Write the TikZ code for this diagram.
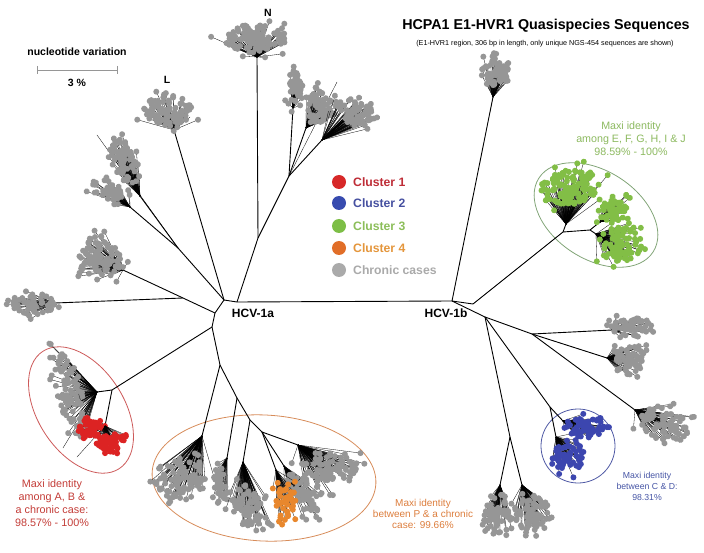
\documentclass[tikz,border=0pt]{standalone}
\usepackage{fontspec}
\setmainfont{Liberation Sans}
\usetikzlibrary{calc}
\definecolor{cgrey}{RGB}{150,150,150}
\definecolor{cred}{RGB}{220,35,35}
\definecolor{cblue}{RGB}{60,70,175}
\definecolor{cgreen}{RGB}{130,190,70}
\definecolor{corange}{RGB}{232,135,45}
\definecolor{tred}{RGB}{195,60,55}
\definecolor{tblue}{RGB}{70,85,165}
\definecolor{tgreen}{RGB}{140,185,95}
\definecolor{torange}{RGB}{220,125,60}
\definecolor{ered}{RGB}{205,90,90}
\definecolor{eorange}{RGB}{215,140,90}
\definecolor{eblue}{RGB}{80,90,165}
\definecolor{egreen}{RGB}{130,165,120}
\definecolor{lg1}{RGB}{215,40,40}
\definecolor{lg2}{RGB}{55,75,175}
\definecolor{lg3}{RGB}{125,190,70}
\definecolor{lg4}{RGB}{225,110,40}
\definecolor{lg5}{RGB}{170,170,170}
\definecolor{lt1}{RGB}{190,45,55}
\definecolor{lt2}{RGB}{70,80,160}
\definecolor{lt3}{RGB}{140,190,90}
\definecolor{lt4}{RGB}{228,150,60}
\definecolor{lt5}{RGB}{170,170,170}
% #1 base, #2 centre x,y, #3 angle, #4 rx, #5 ry, #6 count, #7 colour, #8 seed
\newcommand\clump[8]{%
  \begin{scope}[shift={(#2)},rotate=#3]
    \pgfmathsetseed{#8}%
    \foreach \k in {1,...,#6}{%
      \pgfmathsetmacro\myr{rnd^0.65}%
      \pgfmathsetmacro\mya{360*rnd}%
      \draw[leafline] (#1) -- ({\myr*cos(\mya)*#4},{\myr*sin(\mya)*#5});
    }%
    \pgfmathsetseed{#8+500}%
    \foreach \k in {1,...,7}{%
      \pgfmathsetmacro\myr{1+0.45*rnd}%
      \pgfmathsetmacro\mya{360*rnd}%
      \draw[leafline] (#1) -- ({\myr*cos(\mya)*#4},{\myr*sin(\mya)*#5});
    }%
    \pgfmathsetseed{#8}%
    \foreach \k in {1,...,#6}{%
      \pgfmathsetmacro\myr{rnd^0.65}%
      \pgfmathsetmacro\mya{360*rnd}%
      \fill[#7] ({\myr*cos(\mya)*#4},{\myr*sin(\mya)*#5}) circle[radius=3pt];
    }%
    \pgfmathsetseed{#8+500}%
    \foreach \k in {1,...,7}{%
      \pgfmathsetmacro\myr{1+0.45*rnd}%
      \pgfmathsetmacro\mya{360*rnd}%
      \fill[#7] ({\myr*cos(\mya)*#4},{\myr*sin(\mya)*#5}) circle[radius=3pt];
    }%
  \end{scope}}
\begin{document}
\begin{tikzpicture}[x=1pt,y=-1pt,
  branch/.style={line width=0.9pt,black},
  leafline/.style={line width=0.3pt,black},
  lab/.style={inner sep=0pt,font=\bfseries\fontsize{12}{14}\selectfont},
  legtext/.style={anchor=west,inner sep=0pt,font=\bfseries\fontsize{12.2}{14}\selectfont},
  note/.style={align=center,inner sep=0pt}]
\useasboundingbox (0,0) rectangle (704,553);
% ---------- coordinates ----------
\coordinate (A0) at (237,302); \coordinate (A0b) at (224,300);
\coordinate (A1) at (215,313); \coordinate (A2) at (212,327);
\coordinate (NB) at (258,238); \coordinate (Nb) at (257,57);
\coordinate (NQ) at (289,176); \coordinate (N1b) at (293,108);
\coordinate (N2b) at (306,128); \coordinate (N3b) at (322,140);
\coordinate (Ntip) at (337,82);
\coordinate (Lb) at (174,130); \coordinate (Ltip) at (190,117);
\coordinate (UL0) at (178,248); \coordinate (ULtip) at (97,135);
\coordinate (ULab) at (140,196); \coordinate (ULbb) at (130,207);
\coordinate (ML0) at (123,270); \coordinate (J) at (183,298);
\coordinate (HLb) at (55,303);
\coordinate (R0) at (112,390); \coordinate (R1) at (97,392);
\coordinate (R2) at (105,426); \coordinate (Rtip) at (63,448);
\coordinate (Rtip2) at (77,457);
\coordinate (O0) at (220,365); \coordinate (OA) at (202,436);
\coordinate (OB) at (237,398); \coordinate (O2b) at (227,458);
\coordinate (OC) at (250,420); \coordinate (O3b) at (243,462);
\coordinate (OD) at (262,432); \coordinate (OOb) at (276,470);
\coordinate (O4b) at (284,466); \coordinate (O5b) at (298,445);
\coordinate (B0) at (452,301); \coordinate (B1) at (473,304);
\coordinate (TRb) at (493,97);
\coordinate (G0) at (563,232); \coordinate (G1b) at (566,224);
\coordinate (G2) at (590,230); \coordinate (G2b) at (600,222);
\coordinate (G3b) at (596,234);
\coordinate (B2) at (485,317); \coordinate (RJ) at (532,334);
\coordinate (RAb) at (612,330); \coordinate (RBb) at (607,358);
\coordinate (RCb) at (635,410);
\coordinate (BL) at (550,407); \coordinate (BLa) at (563,421);
\coordinate (BLb) at (556,437);
\coordinate (BD) at (510,437); \coordinate (BD1) at (500,485);
\coordinate (BD2) at (522,485);
% ---------- ellipses ----------
\draw[ered,line width=0.8pt] (81,410) ellipse[x radius=70pt,y radius=43pt,rotate=-57];
\draw[eorange,line width=0.8pt] (264,478) ellipse[x radius=112pt,y radius=63pt,rotate=-3];
\draw[egreen,line width=0.8pt] (596,215) ellipse[x radius=68pt,y radius=44pt,rotate=-33];
\draw[eblue,line width=0.8pt] (578,446) circle[radius=37pt];
% ---------- branches ----------
\draw[branch] (A0) -- (B0);
\draw[branch] (A0) -- (A0b) -- (A1) -- (A2);
\draw[branch] (A0) -- (NB) -- (Nb);
\draw[branch] (NB) -- (NQ);
\draw[branch] (NQ) -- (N1b); \draw[branch] (NQ) -- (N2b);
\draw[branch] (NQ) -- (N3b); \draw[leafline] (NQ) -- (Ntip);
\draw[branch] (A0b) -- (Lb); \draw[leafline] (Lb) -- (Ltip);
\draw[branch] (A0b) -- (UL0); \draw[leafline] (UL0) -- (ULtip);
\draw[branch] (UL0) -- (ULab); \draw[branch] (UL0) -- (ULbb);
\draw[branch] (A1) -- (J) -- (ML0); \draw[branch] (J) -- (HLb);
\draw[branch] (A2) -- (R0) -- (R1); \draw[branch] (R0) -- (R2);
\draw[leafline] (R1) -- (Rtip); \draw[leafline] (R2) -- (Rtip2);
\draw[branch] (A2) -- (O0) -- (OA); \draw[branch] (O0) -- (OB) -- (O2b);
\draw[branch] (OB) -- (OC) -- (O3b); \draw[branch] (OC) -- (OD);
\draw[branch] (OD) -- (OOb); \draw[branch] (OD) -- (O4b); \draw[branch] (OD) -- (O5b);
\draw[branch] (B0) -- (TRb);
\draw[branch] (B0) -- (B1) -- (G0) -- (G1b); \draw[branch] (G0) -- (G2) -- (G2b);
\draw[branch] (G2) -- (G3b);
\draw[branch] (B0) -- (B2) -- (RJ) -- (RAb); \draw[branch] (RJ) -- (RBb);
\draw[branch] (RJ) -- (RCb);
\draw[branch] (B2) -- (BL) -- (BLa); \draw[branch] (BL) -- (BLb);
\draw[branch] (B2) -- (BD) -- (BD1); \draw[branch] (BD) -- (BD2);
% ---------- clumps ----------
\clump{Nb}{255,38}{0}{31}{15}{110}{cgrey}{11}
\clump{N1b}{294,88}{0}{7}{18}{40}{cgrey}{12}
\clump{N2b}{318,105}{0}{13}{18}{60}{cgrey}{13}
\clump{N3b}{355,112}{-20}{20}{13}{70}{cgrey}{14}
\clump{Lb}{168,110}{0}{24}{16}{85}{cgrey}{15}
\clump{ULab}{124,162}{-66}{26}{11}{75}{cgrey}{16}
\clump{ULbb}{106,190}{-20}{18}{9}{45}{cgrey}{17}
\clump{ML0}{100,258}{0}{22}{22}{95}{cgrey}{18}
\clump{HLb}{32,304}{0}{22}{11}{55}{cgrey}{19}
\clump{R1}{70,395}{-70}{48}{13}{90}{cgrey}{20}
\clump{R2}{90,430}{0}{14}{9}{40}{cred}{21}
\clump{R2}{112,442}{0}{14}{10}{45}{cred}{22}
\clump{OA}{180,480}{0}{26}{22}{100}{cgrey}{23}
\clump{O2b}{220,485}{0}{6}{18}{28}{cgrey}{24}
\clump{O3b}{250,508}{-60}{26}{16}{75}{cgrey}{25}
\clump{O4b}{302,495}{-55}{24}{12}{55}{cgrey}{26}
\clump{OOb}{285,500}{0}{10}{20}{35}{corange}{27}
\clump{O5b}{328,470}{0}{28}{20}{95}{cgrey}{28}
\clump{TRb}{496,73}{0}{14}{15}{55}{cgrey}{29}
\clump{G1b}{569,188}{10}{30}{18}{120}{cgreen}{30}
\clump{G2b}{614,210}{20}{16}{11}{50}{cgreen}{31}
\clump{G3b}{620,244}{0}{22}{18}{85}{cgreen}{32}
\clump{RAb}{632,328}{0}{20}{10}{55}{cgrey}{33}
\clump{RBb}{630,362}{0}{17}{16}{60}{cgrey}{34}
\clump{RCb}{665,425}{-20}{26}{16}{80}{cgrey}{35}
\clump{BLa}{585,428}{0}{20}{10}{55}{cblue}{36}
\clump{BLb}{570,455}{0}{15}{16}{60}{cblue}{37}
\clump{BD1}{498,515}{0}{13}{23}{60}{cgrey}{38}
\clump{BD2}{534,515}{0}{18}{20}{70}{cgrey}{39}
% ---------- labels ----------
\node[lab] (l1a) at (253,313) {HCV-1a};
\node[lab] (l1b) at (446,313) {HCV-1b};
\node[lab,font=\bfseries\fontsize{10.5}{12}\selectfont] (lN) at (268,13) {N};
\node[lab,font=\bfseries\fontsize{10.5}{12}\selectfont] (lL) at (167,80) {L};
\node[inner sep=0pt,font=\bfseries\fontsize{14.3}{17}\selectfont] (title) at (546,26) {HCPA1 E1-HVR1 Quasispecies Sequences};
\node[inner sep=0pt,font=\fontsize{7.2}{9}\selectfont] (sub) at (545,44) {(E1-HVR1 region, 306 bp in length, only unique NGS-454 sequences are shown)};
\node[inner sep=0pt,font=\bfseries\fontsize{10.5}{12}\selectfont] (nv) at (77,52) {nucleotide variation};
\coordinate (sb1) at (37,70); \coordinate (sb2) at (117,70);
\draw[cgrey,line width=0.6pt] (sb1) -- (sb2);
\draw[cgrey,line width=0.6pt] ($(sb1)+(0,-4)$) -- ($(sb1)+(0,4)$);
\draw[cgrey,line width=0.6pt] ($(sb2)+(0,-4)$) -- ($(sb2)+(0,4)$);
\node[inner sep=0pt,font=\bfseries\fontsize{10.5}{12}\selectfont] (pc) at (77,83) {3 \%};
% legend
\fill[lg1] (339,182) circle[radius=7pt]; \node[legtext,text=lt1] (c1) at (353,182) {Cluster 1};
\fill[lg2] (339,203) circle[radius=7pt]; \node[legtext,text=lt2] (c2) at (353,203) {Cluster 2};
\fill[lg3] (339,226) circle[radius=7pt]; \node[legtext,text=lt3] (c3) at (353,226) {Cluster 3};
\fill[lg4] (339,248) circle[radius=7pt]; \node[legtext,text=lt4] (c4) at (353,248) {Cluster 4};
\fill[lg5] (339,270) circle[radius=7pt]; \node[legtext,text=lt5] (c5) at (353,270) {Chronic cases};
% notes
\node[note,text=tred,font=\fontsize{10.8}{13}\selectfont] (nr) at (52,503.5) {Maxi identity\\among  A, B \&\\a chronic case:\\98.57\% - 100\%};
\node[note,text=torange,font=\fontsize{10}{11}\selectfont] (no) at (423,513.5) {Maxi identity\\between P \& a chronic\\case: 99.66\%};
\node[note,text=tblue,font=\fontsize{8.7}{11}\selectfont] (nb) at (647,486) {Maxi identity\\between C \& D:\\98.31\%};
\node[note,text=tgreen,font=\fontsize{10.7}{13}\selectfont] (ng) at (631,139) {Maxi identity\\among E, F, G, H, I \& J\\98.59\% - 100\%};
\end{tikzpicture}
\end{document}
